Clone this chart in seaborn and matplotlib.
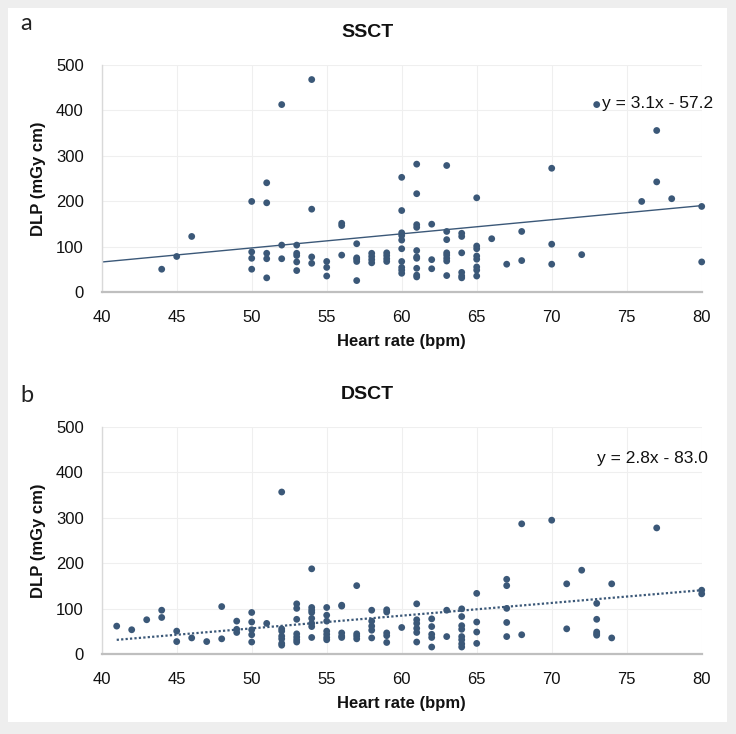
import matplotlib
matplotlib.use("Agg")
import matplotlib.pyplot as plt
import seaborn as sns
import pandas as pd
import numpy as np
from matplotlib.patches import Rectangle

# ---------------- data ----------------
# Panel a (SSCT): heart rate (bpm) and DLP (mGy cm)
ssct_hr = ([44, 45, 46] + [50]*4 + [51]*5 + [52]*3 + [53]*5 + [54]*4 + [55]*3 + [56]*3
           + [57]*5 + [58]*4 + [59]*4 + [60]*10 + [61]*10 + [62]*3 + [63]*8 + [64]*6
           + [65]*8 + [66, 67] + [68]*2 + [70]*3 + [72, 73, 76] + [77]*2 + [78] + [80]*2)
ssct_dlp = [51, 79, 123,
            200, 89, 75, 51,
            241, 197, 86, 74, 32,
            413, 104, 74,
            104, 86, 81, 67, 48,
            468, 183, 78, 64,
            68, 55, 36,
            152, 147, 82,
            107, 76, 73, 68, 26,
            86, 79, 72, 65,
            87, 81, 74, 68,
            253, 180, 131, 125, 115, 96, 68, 55, 49, 42,
            282, 217, 149, 143, 92, 78, 75, 53, 38, 34,
            150, 72, 52,
            279, 134, 116, 87, 82, 75, 69, 37,
            130, 123, 87, 44, 36, 32,
            208, 102, 96, 80, 73, 56, 49, 36,
            118, 62,
            134, 70,
            273, 106, 62,
            83, 413, 200,
            356, 243,
            206,
            189, 67]

# Panel b (DSCT)
dsct_hr = ([41, 42, 43] + [44]*2 + [45]*2 + [46, 47] + [48]*2 + [49]*3 + [50]*5 + [51]
           + [52]*7 + [53]*7 + [54]*8 + [55]*7 + [56]*5 + [57]*4 + [58]*5 + [59]*5 + [60]
           + [61]*6 + [62]*5 + [63]*2 + [64]*8 + [65]*4 + [67]*5 + [68]*2 + [70] + [71]*2
           + [72] + [73]*5 + [74]*2 + [77] + [80]*2)
dsct_dlp = [62, 54, 76,
            97, 81,
            51, 28,
            36, 28,
            105, 34,
            73, 55, 48,
            92, 71, 54, 43, 27,
            68,
            357, 56, 51, 40, 34, 24, 20,
            111, 101, 77, 45, 38, 32, 27,
            188, 103, 97, 92, 79, 68, 61, 37,
            103, 86, 73, 51, 44, 37, 32,
            108, 106, 47, 40, 37,
            151, 45, 40, 34,
            97, 73, 62, 53, 36,
            98, 93, 47, 41, 26,
            59,
            111, 76, 68, 57, 48, 27,
            78, 61, 44, 37, 16,
            97, 39,
            100, 83, 63, 55, 39, 32, 23, 16,
            134, 71, 49, 24,
            165, 151, 101, 70, 39,
            287, 43,
            295,
            155, 56,
            185,
            112, 77, 49, 45, 42,
            155, 36,
            278,
            141, 133]

# trendlines (as printed on the chart)
ssct_slope, ssct_intercept = 3.1, -57.2
dsct_slope, dsct_intercept = 2.8, -83.0
ssct_trend_x = [40, 80]
dsct_trend_x = [41, 80]

x_ticks = [40, 45, 50, 55, 60, 65, 70, 75, 80]
y_ticks = [0, 100, 200, 300, 400, 500]

titles = ["SSCT", "DSCT"]
panel_letters = ["a", "b"]
equations = ["y = 3.1x - 57.2", "y = 2.8x - 83.0"]
x_label = "Heart rate (bpm)"
y_label = "DLP (mGy cm)"

# ---------------- style ----------------
sns.set_theme(style="white")
plt.rcParams['font.family'] = ['Liberation Sans', 'DejaVu Sans']

W, H = 736, 734
fig = plt.figure(figsize=(W/100, H/100), dpi=100)
fig.patch.set_facecolor('#eeeeee')
fig.patches.append(Rectangle((8/W, 1-722/H), (727-8)/W, (722-8)/H,
                             transform=fig.transFigure, facecolor='white',
                             edgecolor='none', zorder=-10))

pt_color = '#3b5878'
line_color = '#3b5878'

def fx(px):
    return px / W

def fy(py):
    return 1 - py / H

ax_left, ax_right = 101.7, 701.7
panels = [
    dict(top=65.0, bottom=292.4, hr=ssct_hr, dlp=ssct_dlp, slope=ssct_slope,
         intercept=ssct_intercept, tx=ssct_trend_x, ls='-', lw=1.0,
         title_y=32.7, letter_y=30, eq_xy=(601.7, 103.3)),
    dict(top=427.0, bottom=654.3, hr=dsct_hr, dlp=dsct_dlp, slope=dsct_slope,
         intercept=dsct_intercept, tx=dsct_trend_x, ls=(0, (1, 1)), lw=1.6,
         title_y=394.5, letter_y=402, eq_xy=(596.7, 458.3)),
]

for i, p in enumerate(panels):
    ax = fig.add_axes([fx(ax_left), fy(p['bottom']), fx(ax_right) - fx(ax_left),
                       (p['bottom'] - p['top']) / H])
    ax.set_facecolor('white')
    df = pd.DataFrame({'hr': p['hr'], 'dlp': p['dlp']})
    tx = np.array(p['tx'], dtype=float)
    tdf = pd.DataFrame({'hr': tx, 'dlp': p['slope'] * tx + p['intercept']})
    sns.lineplot(data=tdf, x='hr', y='dlp', ax=ax, color=line_color,
                 linestyle=p['ls'], linewidth=p['lw'], zorder=2)
    sns.scatterplot(data=df, x='hr', y='dlp', ax=ax, color=pt_color, s=24,
                    edgecolor='none', linewidth=0, zorder=3, clip_on=False)
    ax.set_xlim(40, 80)
    ax.set_ylim(0, 500)
    ax.set_xticks(x_ticks)
    ax.set_yticks(y_ticks)
    ax.set_xticklabels([str(v) for v in x_ticks])
    ax.set_yticklabels([str(v) for v in y_ticks])
    ax.grid(True, color='#efefef', linewidth=0.8, zorder=0)
    ax.set_axisbelow(True)
    for s in ['top', 'right']:
        ax.spines[s].set_visible(False)
    ax.spines['left'].set_color('#d9d9d9')
    ax.spines['left'].set_linewidth(1.0)
    ax.spines['bottom'].set_color('#bfbfbf')
    ax.spines['bottom'].set_linewidth(1.6)
    ax.tick_params(axis='both', length=0, labelsize=12, colors='#111111')
    ax.tick_params(axis='y', pad=13)
    ax.tick_params(axis='x', pad=13)
    ax.set_xlabel(x_label, fontsize=12, fontweight='bold', color='#111111')
    ax.set_ylabel(y_label, fontsize=12, fontweight='bold', color='#111111')
    ax.xaxis.set_label_coords(0.5, -0.185)
    ax.yaxis.set_label_coords(-0.106, 0.5)
    ax.yaxis.label.set_va('center')

    fig.text(fx(367), fy(p['title_y']), titles[i], fontsize=14, fontweight='bold',
             ha='center', va='center', color='#111111')
    fig.text(fx(20), fy(p['letter_y']), panel_letters[i], fontsize=17,
             family=['Lato', 'DejaVu Sans'], ha='left', va='baseline', color='#222222')
    fig.text(fx(p['eq_xy'][0]), fy(p['eq_xy'][1]), equations[i], fontsize=12.5,
             ha='left', va='center', color='#111111')

fig.savefig('out.png', dpi=100, facecolor=fig.get_facecolor())
